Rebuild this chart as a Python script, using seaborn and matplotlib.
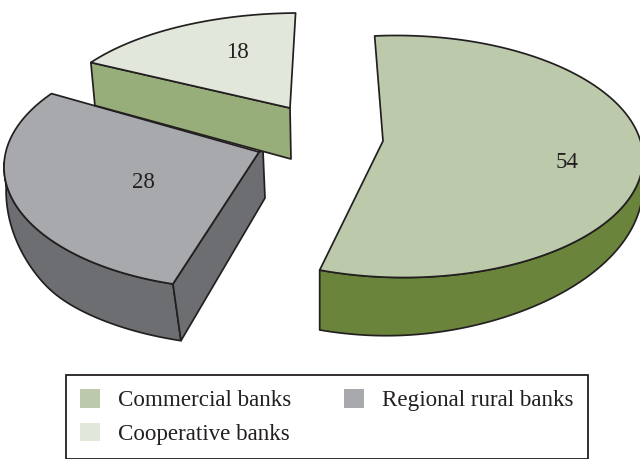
import numpy as np
import matplotlib
matplotlib.use("Agg")
import matplotlib.pyplot as plt
from matplotlib.patches import Patch
import seaborn as sns

# Data
categories = ["Commercial banks", "Regional rural banks", "Cooperative banks"]
shares = [54, 28, 18]

# Styles
top_colors = ["#BCCAAB", "#A8A9AD", "#E1E7DA"]
side_colors = ["#6A853B", "#6D6E71", "#98AE7A"]
line_color = "#231F20"
text_color = "#231F20"

# Layout of the exploded, tilted slices (pixel-like axes units)
layout = [
    dict(apex=(383, 141), centre=(400, 156.5), radii=(243, 121), rot=0.6, start=251.0, stretch=1.056,
         depth=61, full=270, slope=0.37, soft=6, shift=(0, 0), arc_from=251.0, arc_to=362.0,
         label=(567, 163)),
    dict(apex=(259, 152), centre=(240, 167), radii=(236, 122), rot=0.0, start=143.0, stretch=1.096,
         depth=57, full=215, slope=-0.85, soft=6, shift=(2, 8), arc_from=178.0, arc_to=253.5,
         label=(143, 182)),
    dict(apex=(290, 108), centre=(300, 125), radii=(252, 112), rot=0.0, start=91.0, stretch=0.85,
         depth=45, full=0, slope=0.0, soft=0, shift=(0, 0), arc_from=None, arc_to=None,
         label=(237, 53)),
]

sns.set_theme(style="white")
plt.rcParams["font.family"] = ["Liberation Serif", "DejaVu Serif"]

fig = plt.figure(figsize=(6.4, 4.59), dpi=100)
ax = fig.add_axes([0, 0, 1, 1])
ax.set_xlim(0, 640)
ax.set_ylim(459, 0)
ax.axis("off")

LW = 1.25


def arc(g, a, b, n=160):
    th = np.radians(np.linspace(a, b, n))
    u = g["radii"][0] * np.cos(th)
    v = -g["radii"][1] * np.sin(th)
    phi = np.radians(g["rot"])
    return (g["centre"][0] + u * np.cos(phi) - v * np.sin(phi),
            g["centre"][1] + u * np.sin(phi) + v * np.cos(phi))


def depth_at(g, deg):
    t = g["slope"] * (deg - g["full"])
    return g["depth"] - 0.5 * (t + np.sqrt(t ** 2 + g["soft"] ** 2))


def draw_slice(value, top, side, g):
    sweep = 3.6 * value * g["stretch"]
    a, b = g["start"], g["start"] + sweep
    x, y = arc(g, a, b)
    px, py = g["apex"]
    if g["arc_from"] is not None:
        # curved outer wall
        deg = np.linspace(g["arc_from"], g["arc_to"], 160)
        sx, sy = arc(g, g["arc_from"], g["arc_to"])
        d = depth_at(g, deg)
        sh = np.linspace(g["shift"][0], g["shift"][1], deg.size)
        ax.fill(np.r_[sx, (sx + sh)[::-1]], np.r_[sy, (sy + d)[::-1]],
                fc=side, ec=line_color, lw=LW, joinstyle="round")
    if g["shift"][1]:
        # cut wall from the arc end to the apex
        ex, ey = arc(g, g["arc_to"], g["arc_to"], 1)
        d = depth_at(g, np.array([g["arc_to"]]))
        ax.fill([ex[0], px, px + 4, px + 6, ex[0] + g["shift"][1]],
                [ey[0], py, py - 1, py + 46, ey[0] + d[0]],
                fc=side, ec=line_color, lw=LW, joinstyle="round")
    if g["arc_from"] is None:
        # flat front wall below the straight edge
        lx, ly = x[-1], y[-1]
        ax.fill([lx, px, px + 1, lx + 4], [ly, py, py + 51, ly + 43],
                fc=side, ec=line_color, lw=LW, joinstyle="round")
    ax.fill(np.r_[px, x], np.r_[py, y], fc=top, ec=line_color, lw=LW, joinstyle="round")
    ax.text(*g["label"], str(value), ha="center", va="center", fontsize=16.5, color=text_color)


for i in [0, 1, 2]:
    draw_slice(shares[i], top_colors[i], side_colors[i], layout[i])

handles = [Patch(fc=top_colors[0], ec="none", label=categories[0]),
           Patch(fc=top_colors[2], ec="none", label=categories[2]),
           Patch(fc=top_colors[1], ec="none", label=categories[1])]
leg = ax.legend(handles=handles, ncol=2, loc="upper left",
                bbox_to_anchor=(66, 375), bbox_transform=ax.transData,
                borderaxespad=0, fontsize=16.6, frameon=True, fancybox=False,
                edgecolor=line_color, facecolor="white", framealpha=1,
                handlelength=0.87, handleheight=0.87, handletextpad=0.8,
                columnspacing=2.26, labelspacing=0.5, borderpad=0.6,
                labelcolor=text_color)
leg.get_frame().set_linewidth(1.3)

fig.savefig("out.png", dpi=100)
